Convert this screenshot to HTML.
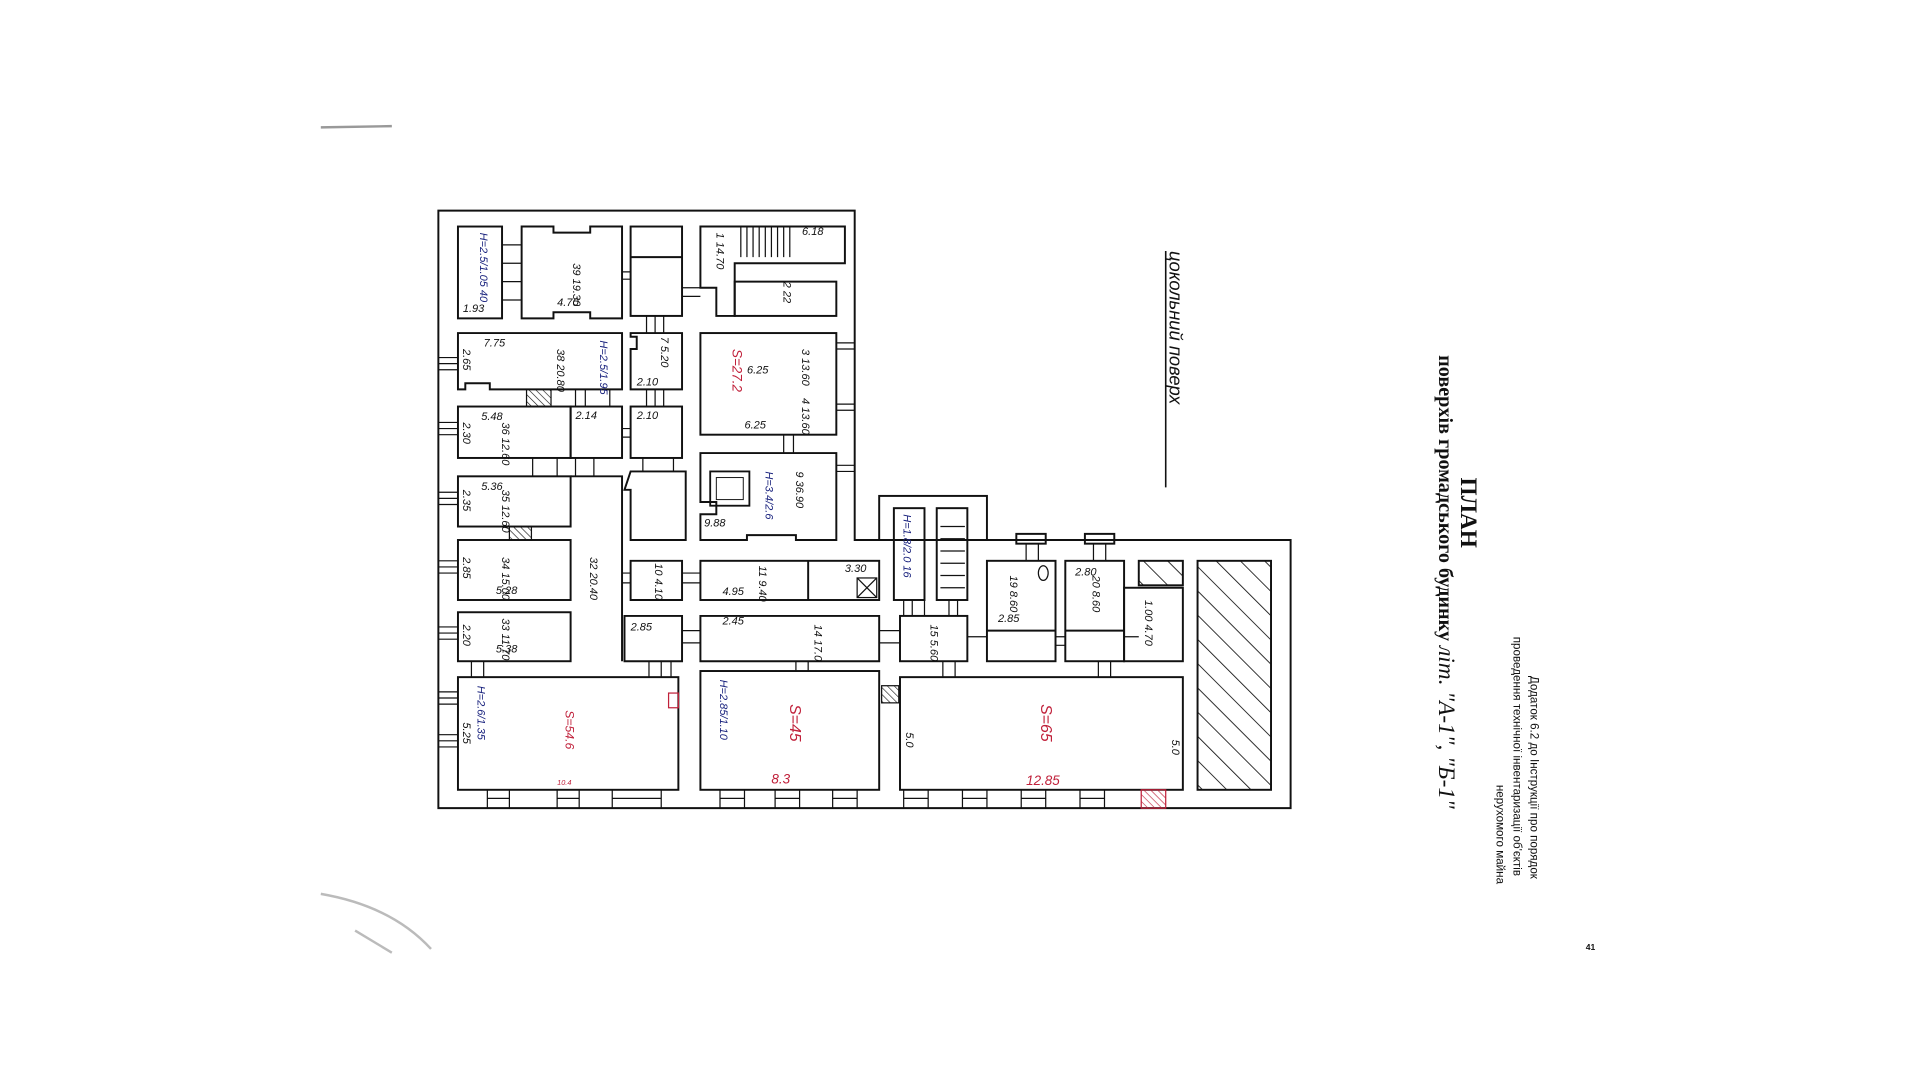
<!DOCTYPE html>
<html><head><meta charset="utf-8"><style>
html,body{margin:0;padding:0;background:#fff;width:1920px;height:1080px;overflow:hidden}
svg{display:block}
.w{fill:none;stroke:#111;stroke-width:1.6}
.t{font-family:"Liberation Sans",sans-serif;font-style:italic;font-size:9px;fill:#111}
.r{fill:#c0203a}
.b{fill:#1a237e}
</style></head><body>
<svg width="1920" height="1080" viewBox="0 0 1568 882" xmlns="http://www.w3.org/2000/svg">
<defs>
<pattern id="h" width="14" height="14" patternUnits="userSpaceOnUse" patternTransform="rotate(-45)"><line x1="0" y1="0" x2="0" y2="14" stroke="#111" stroke-width="1.4"/></pattern>
<pattern id="h2" width="4" height="4" patternUnits="userSpaceOnUse" patternTransform="rotate(-45)"><line x1="0" y1="0" x2="0" y2="4" stroke="#111" stroke-width="1"/></pattern>
<pattern id="h3" width="4" height="4" patternUnits="userSpaceOnUse" patternTransform="rotate(-45)"><line x1="0" y1="0" x2="0" y2="4" stroke="#c0203a" stroke-width="1"/></pattern>
</defs>
<line x1="262" y1="104" x2="320" y2="103" stroke="#999" stroke-width="2"/>
<path d="M262 730 Q320 740 352 775 M290 760 L320 778" stroke="#bbb" stroke-width="2" fill="none"/>
<path class="w" d="M358 172 H698 V441 H1054 V660 H358 Z"/>
<g class="w">
<rect x="374" y="185" width="36" height="75"/>
<path d="M426 185 H452 V190 H482 V185 H508 V260 H482 V255 H452 V260 H426 Z"/>
<rect x="515" y="185" width="42" height="73"/>
<line x1="515" y1="210" x2="557" y2="210"/>
<path d="M572 185 H690 V215 H600 V258 H585 V235 H572 Z"/>
<rect x="600" y="230" width="83" height="28"/>
<path d="M374 272 H508 V318 H400 V313 H380 V318 H374 Z"/>
<path d="M515 272 H557 V318 H515 V285 H520 V275 H515 Z"/>
<rect x="572" y="272" width="111" height="83"/>
<rect x="374" y="332" width="92" height="42"/>
<rect x="466" y="332" width="42" height="42"/>
<rect x="515" y="332" width="42" height="42"/>
<path d="M572 370 H683 V441 H650 V437 H610 V441 H572 V420 H585 V410 H572 Z"/>
<path d="M515 385 H560 V441 H515 V400 H510 Z"/>
<rect x="374" y="389" width="92" height="41"/>
<rect x="374" y="441" width="92" height="49"/>
<rect x="374" y="500" width="92" height="40"/>
<path d="M466 389 H508 V540"/>
<path d="M515 458 H557 V490 H515 Z"/>
<rect x="572" y="458" width="146" height="32"/>
<line x1="660" y1="458" x2="660" y2="490"/>
<path d="M572 503 H718 V540 H572 Z"/>
<path d="M510 503 H557 V540 H510 Z"/>
<rect x="718" y="405" width="88" height="36"/>
<rect x="730" y="415" width="25" height="75"/>
<rect x="765" y="415" width="25" height="75"/>
<rect x="735" y="503" width="55" height="37"/>
<rect x="806" y="458" width="56" height="82"/>
<line x1="806" y1="515" x2="862" y2="515"/>
<rect x="870" y="458" width="48" height="82"/>
<line x1="870" y1="515" x2="918" y2="515"/>
<rect x="918" y="480" width="48" height="60"/>
<rect x="930" y="458" width="36" height="20" fill="url(#h)"/>
<rect x="978" y="458" width="60" height="187" fill="url(#h)"/>
<rect x="374" y="553" width="180" height="92"/>
<rect x="572" y="548" width="146" height="97"/>
<rect x="735" y="553" width="231" height="92"/>
<rect x="830" y="436" width="24" height="8"/>
<rect x="886" y="436" width="24" height="8"/>
</g>
<g stroke="#111" stroke-width="1">
<path d="M605 185 V210 M610 185 V210 M615 185 V210 M620 185 V210 M625 185 V210 M630 185 V210 M635 185 V210 M640 185 V210 M645 185 V210"/>
<path d="M768 430 H788 M768 440 H788 M768 450 H788 M768 460 H788 M768 470 H788 M768 480 H788"/>
<!-- doors -->
<path d="M410 200 h16 M410 215 h16 M410 230 h16 M410 245 h16"/>
<path d="M508 222 h7 M508 228 h7 M557 235 h15 M557 242 h15"/>
<path d="M528 258 v14 M535 258 v14 M542 258 v14"/>
<path d="M470 318 v14 M478 318 v14 M498 318 v14"/>
<path d="M528 318 v14 M535 318 v14 M542 318 v14"/>
<path d="M508 350 h7 M508 357 h7"/>
<path d="M640 355 v15 M648 355 v15"/>
<path d="M435 374 v15 M455 374 v15 M470 374 v15 M485 374 v15"/>
<path d="M525 374 v11 M550 374 v11"/>
<path d="M508 468 h7 M508 476 h7 M557 468 h15 M557 476 h15"/>
<path d="M557 515 h15 M557 525 h15"/>
<path d="M530 540 v13 M540 540 v13 M548 540 v13"/>
<path d="M385 540 v13 M395 540 v13"/>
<path d="M650 540 v8 M660 540 v8"/>
<path d="M738 490 v13 M745 490 v13 M755 490 v13 M775 490 v13 M782 490 v13"/>
<path d="M718 515 h17 M718 525 h17 M790 520 h16 M862 520 h8 M862 527 h8 M918 520 h12"/>
<path d="M770 540 v13 M780 540 v13 M897 540 v13 M907 540 v13"/>
<path d="M838 444 v14 M848 444 v14 M893 444 v14 M903 444 v14"/>
</g>
<rect x="430" y="318" width="20" height="14" fill="url(#h2)" stroke="#111"/>
<rect x="416" y="430" width="18" height="11" fill="url(#h2)" stroke="#111"/>
<rect x="720" y="560" width="14" height="14" fill="url(#h2)" stroke="#111"/>
<rect x="932" y="645" width="20" height="15" fill="url(#h3)" stroke="#c0203a"/>
<rect x="546" y="566" width="8" height="12" fill="none" stroke="#c0203a"/>
<rect x="580" y="385" width="32" height="28" fill="none" stroke="#111" stroke-width="1.5"/>
<rect x="585" y="390" width="22" height="18" fill="none" stroke="#111" stroke-width="0.8"/>
<rect x="700" y="472" width="16" height="16" fill="none" stroke="#111"/>
<path d="M700 472 L716 488 M716 472 L700 488" stroke="#111"/>
<ellipse cx="852" cy="468" rx="4" ry="6" fill="none" stroke="#111"/>
<g stroke="#111" stroke-width="1" fill="none">
<path d="M358 292 h16 M358 297 h16 M358 302 h16"/>
<path d="M358 345 h16 M358 350 h16 M358 355 h16"/>
<path d="M358 402 h16 M358 407 h16 M358 412 h16"/>
<path d="M358 458 h16 M358 463 h16 M358 468 h16"/>
<path d="M358 512 h16 M358 517 h16 M358 522 h16"/>
<path d="M358 565 h16 M358 570 h16 M358 575 h16 M358 600 h16 M358 605 h16 M358 610 h16"/>
<path d="M398 645 v15 M416 645 v15 M455 645 v15 M473 645 v15 M500 645 v15 M540 645 v15 M398 652 h18 M455 652 h18 M500 652 h40"/>
<path d="M588 645 v15 M608 645 v15 M633 645 v15 M653 645 v15 M680 645 v15 M700 645 v15 M588 652 h20 M633 652 h20 M680 652 h20"/>
<path d="M738 645 v15 M758 645 v15 M786 645 v15 M806 645 v15 M834 645 v15 M854 645 v15 M882 645 v15 M902 645 v15 M738 652 h20 M786 652 h20 M834 652 h20 M882 652 h20"/>
<path d="M683 280 h15 M683 285 h15 M683 330 h15 M683 335 h15 M683 380 h15 M683 385 h15"/>
</g>
<g class="t">
<text transform="rotate(90 468 215)" x="468" y="215">39  19.30</text>
<text transform="rotate(90 392 190)" x="392" y="190" class="b">H=2.5/1.05  40</text>
<text x="378" y="255">1.93</text><text x="455" y="250">4.70</text>
<text transform="rotate(90 640 230)" x="640" y="230">2  22</text>
<text transform="rotate(90 585 190)" x="585" y="190">1  14.70</text>
<text x="655" y="192">6.18</text>
<text x="395" y="283">7.75</text>
<text transform="rotate(90 455 285)" x="455" y="285">38  20.80</text>
<text transform="rotate(90 490 278)" x="490" y="278" class="b">H=2.5/1.95</text>
<text transform="rotate(90 378 285)" x="378" y="285">2.65</text>
<text transform="rotate(90 540 275)" x="540" y="275">7  5.20</text>
<text x="520" y="315">2.10</text>
<text transform="rotate(90 598 285)" x="598" y="285" class="r" font-size="11">S=27.2</text>
<text transform="rotate(90 655 285)" x="655" y="285">3  13.60</text>
<text x="610" y="305">6.25</text><text x="608" y="350">6.25</text>
<text transform="rotate(90 655 325)" x="655" y="325">4  13.60</text>
<text x="393" y="343">5.48</text>
<text transform="rotate(90 410 345)" x="410" y="345">36 12.60</text>
<text transform="rotate(90 378 345)" x="378" y="345">2.30</text>
<text x="470" y="342">2.14</text>
<text x="520" y="342">2.10</text>
<text transform="rotate(90 650 385)" x="650" y="385">9  36.90</text>
<text x="575" y="430">9.88</text>
<text transform="rotate(90 625 385)" x="625" y="385" class="b">H=3.4/2.6</text>
<text x="393" y="400">5.36</text>
<text transform="rotate(90 410 400)" x="410" y="400">35 12.60</text>
<text transform="rotate(90 378 400)" x="378" y="400">2.35</text>
<text transform="rotate(90 410 455)" x="410" y="455">34 15.00</text>
<text x="405" y="485">5.28</text>
<text transform="rotate(90 378 455)" x="378" y="455">2.85</text>
<text transform="rotate(90 482 455)" x="482" y="455">32 20.40</text>
<text transform="rotate(90 410 505)" x="410" y="505">33 11.70</text>
<text x="405" y="533">5.38</text>
<text transform="rotate(90 378 510)" x="378" y="510">2.20</text>
<text transform="rotate(90 535 460)" x="535" y="460">10 4.10</text>
<text transform="rotate(90 620 462)" x="620" y="462">11 9.40</text>
<text x="590" y="486">4.95</text>
<text x="690" y="467">3.30</text>
<text x="590" y="510">2.45</text>
<text transform="rotate(90 665 510)" x="665" y="510">14 17.0</text>
<text x="515" y="515">2.85</text>
<text transform="rotate(90 738 420)" x="738" y="420" class="b">H=1.8/2.0 16</text>
<text transform="rotate(90 760 510)" x="760" y="510">15 5.60</text>
<text transform="rotate(90 825 470)" x="825" y="470">19 8.60</text>
<text x="815" y="508">2.85</text><text x="878" y="470">2.80</text>
<text transform="rotate(90 892 470)" x="892" y="470">20 8.60</text>
<text transform="rotate(90 935 490)" x="935" y="490">1.00 4.70</text>
<text transform="rotate(90 390 560)" x="390" y="560" class="b">H=2.6/1.35</text>
<text transform="rotate(90 378 590)" x="378" y="590">5.25</text>
<text transform="rotate(90 462 580)" x="462" y="580" class="r" font-size="10">S=54.6</text>
<text x="455" y="641" class="r" font-size="6">10.4</text>
<text transform="rotate(90 588 555)" x="588" y="555" class="b">H=2.85/1.10</text>
<text transform="rotate(90 645 575)" x="645" y="575" class="r" font-size="13">S=45</text>
<text x="630" y="640" class="r" font-size="11">8.3</text>
<text transform="rotate(90 850 575)" x="850" y="575" class="r" font-size="13">S=65</text>
<text x="838" y="641" class="r" font-size="11">12.85</text>
<text transform="rotate(90 740 598)" x="740" y="598">5.0</text>
<text transform="rotate(90 957 604)" x="957" y="604">5.0</text>
</g>
<line x1="952" y1="205" x2="952" y2="398" stroke="#111" stroke-width="1.3"/>
<text transform="rotate(90 955 205)" x="955" y="205" font-family="Liberation Sans,sans-serif" font-style="italic" font-size="15" fill="#111">цокольний поверх</text>
<text transform="rotate(90 1193 390)" x="1193" y="390" font-family="Liberation Serif,serif" font-weight="bold" font-size="19" fill="#111">ПЛАН</text>
<text transform="rotate(90 1175 290)" x="1175" y="290" font-family="Liberation Serif,serif" font-weight="bold" font-size="16.5" fill="#111">поверхів громадського будинку <tspan font-style="italic" font-weight="normal" font-size="19">літ. "А-1", "Б-1"</tspan></text>
<text transform="rotate(90 1250 552)" x="1250" y="552" font-family="Liberation Sans,sans-serif" font-size="9.5" fill="#111">Додаток 6.2 до Інструкції про порядок</text>
<text transform="rotate(90 1236 520)" x="1236" y="520" font-family="Liberation Sans,sans-serif" font-size="9.5" fill="#111">проведення технічної інвентаризації об'єктів</text>
<text transform="rotate(90 1222 641)" x="1222" y="641" font-family="Liberation Sans,sans-serif" font-size="9.5" fill="#111">нерухомого майна</text>
<text x="1295" y="776" font-family="Liberation Sans,sans-serif" font-size="7" font-weight="bold" fill="#111">41</text>
</svg>
</body></html>
